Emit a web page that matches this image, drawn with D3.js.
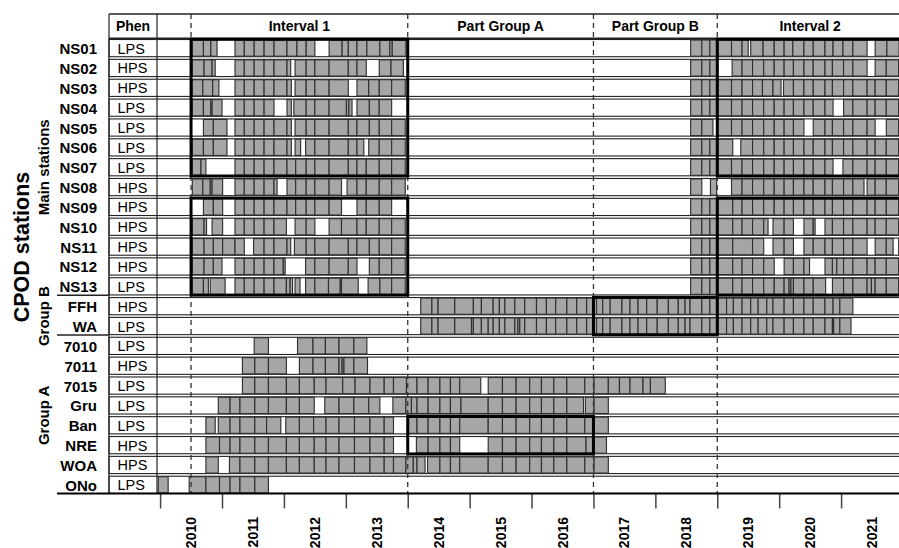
<!DOCTYPE html>
<html>
<head>
<meta charset="utf-8">
<script src="https://cdn.jsdelivr.net/npm/d3@7"></script>
<style>
  body { margin: 0; background: #fff; }
  svg { display: block; }
</style>
</head>
<body>
<svg id="chart" width="899" height="548"></svg>
<script>
// Stations (top to bottom) and their phenotype class
const stations = ["NS01","NS02","NS03","NS04","NS05","NS06","NS07","NS08","NS09","NS10","NS11","NS12","NS13",
                  "FFH","WA","7010","7011","7015","Gru","Ban","NRE","WOA","ONo"];
const phen = ["LPS","HPS","HPS","LPS","LPS","LPS","LPS","HPS","HPS","HPS","HPS","HPS","LPS",
              "HPS","LPS","LPS","HPS","LPS","LPS","LPS","HPS","HPS","LPS"];

// Station groups shown on the left
const groups = [
  { label: "Main stations", first: "NS01", last: "NS13" },
  { label: "Group B", first: "FFH", last: "WA" },
  { label: "Group A", first: "7010", last: "ONo" }
];

// Header periods (decimal years)
const periods = [
  { label: "Interval 1",   start: 2010.5, end: 2014 },
  { label: "Part Group A", start: 2014,   end: 2017 },
  { label: "Part Group B", start: 2017,   end: 2019 },
  { label: "Interval 2",   start: 2019,   end: 2022 }
];
const periodBreaks = [2010.5, 2014, 2017, 2019];

// Highlighted station blocks used in each analysis period
const blocks = [
  { start: 2010.5, end: 2014,   first: "NS01", last: "NS07" },
  { start: 2010.5, end: 2014,   first: "NS09", last: "NS13" },
  { start: 2014,   end: 2017,   first: "Ban",  last: "NRE" },
  { start: 2017,   end: 2019,   first: "FFH",  last: "WA" },
  { start: 2019,   end: 2022.3, first: "NS01", last: "NS07" },
  { start: 2019,   end: 2022.3, first: "NS09", last: "NS13" }
];

const years = [2010,2011,2012,2013,2014,2015,2016,2017,2018,2019,2020,2021];

// CPOD deployments per station: each inner array is a run of back-to-back
// deployments given by their boundary dates (decimal years); gaps separate runs.
const d_NS01 = [[2010.52,2010.70,2010.82,2010.92],
  [2011.21,2011.36,2011.52,2011.68,2011.84,2012.05,2012.21,2012.36,2012.50],
  [2012.73,2012.94,2013.04,2013.18,2013.34,2013.55,2013.71,2013.75,2013.97],
  [2018.57,2018.75,2018.88,2019.01,2019.23,2019.40,2019.50],
  [2019.54,2019.74,2019.92,2020.08,2020.22,2020.40,2020.55,2020.74,2020.87,2021.03,2021.19,2021.42],
  [2021.55,2021.74,2021.94,2022.03]];
const d_NS02 = [[2010.52,2010.71,2010.84,2010.89],
  [2011.21,2011.36,2011.52,2011.68,2011.84,2012.05,2012.11],
  [2012.18,2012.36,2012.50,2012.73,2013.04,2013.18,2013.33],
  [2013.54,2013.73,2013.93],
  [2018.57,2018.75,2018.88,2019.01],
  [2019.24,2019.40,2019.57,2019.75,2019.92,2020.08,2020.23,2020.40,2020.55,2020.74,2020.86,2021.04,2021.19,2021.42],
  [2021.55,2021.73,2021.93,2022.03]];
const d_NS03 = [[2010.52,2010.69,2010.85,2010.95],
  [2011.21,2011.36,2011.52,2011.68,2011.84,2012.05,2012.12],
  [2012.18,2012.36,2012.50,2012.73,2013.04],
  [2013.18,2013.37,2013.54,2013.74,2013.96],
  [2018.57,2018.75,2018.88,2019.01,2019.23,2019.40,2019.57,2019.73,2019.90,2020.03],
  [2020.07,2020.23,2020.40,2020.55,2020.74,2020.86,2021.04,2021.19,2021.42,2021.55,2021.73,2021.93,2022.03]];
const d_NS04 = [[2010.52,2010.70,2010.82,2010.84,2011.00],
  [2011.21,2011.36,2011.52,2011.68,2011.84],
  [2012.05,2012.12],
  [2012.16,2012.36,2012.50,2012.73,2013.01,2013.05,2013.10],
  [2013.18,2013.38,2013.54,2013.74],
  [2018.57,2018.75,2018.88,2019.01,2019.23,2019.40,2019.57,2019.75,2019.92,2020.08,2020.23,2020.40,2020.55,2020.74,2020.87],
  [2021.04,2021.19,2021.42,2021.55,2021.73,2021.93,2022.03]];
const d_NS05 = [[2010.70,2010.86,2011.08],
  [2011.21,2011.36,2011.52,2011.68,2011.84,2012.05,2012.12],
  [2012.18,2012.36,2012.50,2012.73,2013.04,2013.18,2013.38,2013.54,2013.74,2013.96],
  [2018.57,2018.75,2018.93],
  [2019.01,2019.23,2019.40,2019.57,2019.75,2019.92,2020.08,2020.23,2020.40],
  [2020.55,2020.74,2020.86,2021.04,2021.19,2021.42,2021.55],
  [2021.73,2021.93,2022.03]];
const d_NS06 = [[2010.52,2010.70,2010.86,2011.08],
  [2011.21,2011.36,2011.52,2011.68,2011.84,2012.05,2012.12],
  [2012.18,2012.27],
  [2012.35,2012.50,2012.73,2013.04,2013.18,2013.29],
  [2013.37,2013.54,2013.74,2013.96],
  [2018.57,2018.75,2018.88,2019.01,2019.25],
  [2019.38,2019.57,2019.75,2019.92,2020.08,2020.23,2020.40,2020.55,2020.74,2020.86,2021.04,2021.19,2021.42,2021.55,2021.73,2021.93,2022.03]];
const d_NS07 = [[2010.52,2010.66,2010.74],
  [2011.21,2011.36,2011.52,2011.68,2011.84,2012.05,2012.19,2012.36,2012.50,2012.73,2013.04,2013.18,2013.33,2013.54,2013.74,2013.96],
  [2018.57,2018.75,2018.88,2019.01,2019.23,2019.40,2019.57,2019.75,2019.92,2020.08,2020.23,2020.40,2020.55,2020.74,2020.87],
  [2021.03,2021.19,2021.42,2021.55,2021.73,2021.93,2022.03]];
const d_NS08 = [[2010.52,2010.69,2010.81,2010.84,2011.01],
  [2011.21,2011.36,2011.52,2011.68,2011.84,2011.89],
  [2012.05,2012.19,2012.36,2012.50,2012.73,2012.93],
  [2013.02,2013.18,2013.33,2013.54,2013.74,2013.96],
  [2018.57,2018.75],
  [2018.89,2018.99],
  [2019.23,2019.40,2019.57,2019.75,2019.92,2020.08,2020.23,2020.40,2020.55,2020.74,2020.86,2021.04,2021.19,2021.37],
  [2021.42,2021.55,2021.73,2021.93,2022.03]];
const d_NS09 = [[2010.70,2010.86,2011.01],
  [2011.21,2011.36,2011.52,2011.68,2011.84,2012.05,2012.19,2012.36,2012.50,2012.73,2012.93],
  [2013.18,2013.33,2013.54,2013.74],
  [2018.57,2018.75,2018.88,2019.01,2019.25,2019.40,2019.57,2019.75,2019.92,2020.08,2020.23,2020.40,2020.55,2020.74,2020.86,2021.04,2021.19,2021.42,2021.55,2021.73,2021.93,2022.03]];
const d_NS10 = [[2010.52,2010.71,2010.75],
  [2010.84,2011.01],
  [2011.21,2011.36,2011.52,2011.68,2011.84,2012.04],
  [2012.18,2012.36,2012.50],
  [2012.73,2012.93,2013.18,2013.33,2013.54,2013.74,2013.96],
  [2018.57,2018.75,2018.88,2019.01,2019.25,2019.40,2019.57,2019.75,2019.82],
  [2019.90,2020.08,2020.23],
  [2020.40,2020.55,2020.58],
  [2020.74,2020.86,2021.04,2021.19,2021.42,2021.55,2021.73,2021.93,2022.03]];
const d_NS11 = [[2010.52,2010.71,2010.86,2011.01,2011.21,2011.36],
  [2011.51,2011.68,2011.84,2012.05,2012.11],
  [2012.17,2012.36,2012.50,2012.73,2013.04,2013.18,2013.38,2013.54,2013.74,2013.96],
  [2018.57,2018.75,2018.88,2019.01,2019.25,2019.57,2019.75],
  [2019.90,2020.08,2020.23],
  [2020.40,2020.55,2020.74,2020.86,2021.04,2021.19,2021.42],
  [2021.55,2021.73,2021.84],
  [2021.93,2022.03]];
const d_NS12 = [[2010.52,2010.71,2010.86,2011.00],
  [2011.21,2011.36,2011.52,2011.68,2011.84,2011.99,2012.02],
  [2012.35,2012.50,2012.73,2013.04,2013.18],
  [2013.38,2013.54,2013.74,2013.96],
  [2018.57,2018.75,2018.88,2019.01,2019.25,2019.40,2019.57,2019.75,2019.92],
  [2020.08,2020.23,2020.40,2020.49],
  [2020.74,2020.86,2020.93,2021.04,2021.19,2021.42,2021.55,2021.73,2021.93,2022.03]];
const d_NS13 = [[2010.52,2010.70,2010.78],
  [2010.81,2011.05],
  [2011.21,2011.36,2011.52,2011.68,2011.84,2012.04,2012.10,2012.14],
  [2012.18,2012.26],
  [2012.35,2012.50,2012.72,2012.91,2012.93,2013.20],
  [2013.36,2013.55,2013.74,2013.96],
  [2018.57,2018.75,2018.88,2019.01,2019.25,2019.40,2019.57,2019.75,2019.92,2020.08,2020.16,2020.19,2020.23,2020.40,2020.55,2020.75],
  [2020.86,2021.04,2021.19,2021.42,2021.49,2021.55,2021.73,2021.93,2022.03]];
const d_FFH = [[2014.21,2014.39,2014.49,2014.76,2015.06,2015.19,2015.38,2015.48,2015.57,2015.73,2015.89,
  2016.08,2016.24,2016.39,2016.57,2016.73,2016.89,2017.01,2017.05,2017.15,2017.27,2017.46,2017.59,2017.72,2017.86,
  2018.03,2018.21,2018.37,2018.48,2018.56,2018.75,2018.88,2019.01,2019.15,2019.26,2019.40,2019.54,2019.66,2019.80,2019.90,
  2020.08,2020.23,2020.40,2020.55,2020.74,2020.87,2020.98,2021.19]];
const d_WA = [[2014.21,2014.39,2014.49,2014.76,2015.03,2015.06,2015.19,2015.30,2015.38,2015.48,2015.57,2015.73,2015.78,2015.81,2015.89,
  2016.08,2016.24,2016.39,2016.57,2016.73,2016.89,2017.01,2017.05,2017.15,2017.27,2017.46,2017.59,2017.72,2017.86,
  2018.03,2018.21,2018.37,2018.48,2018.56,2018.75,2018.88,2019.01,2019.15,2019.26,2019.40,2019.54,2019.66,2019.80,2019.90,
  2020.08,2020.23,2020.40,2020.55,2020.74,2020.86,2020.88,2020.98,2021.16]];
const d_7010 = [[2011.52,2011.75],
  [2012.22,2012.47,2012.67,2012.89,2013.13,2013.34]];
const d_7011 = [[2011.33,2011.53,2011.75,2012.04],
  [2012.25,2012.47,2012.67,2012.89,2012.94,2012.97,2013.13,2013.35]];
const d_7015 = [[2011.33,2011.53,2011.75,2012.04,2012.25,2012.49,2012.68,2012.95,2013.15,2013.39,2013.62,2013.77,2013.98,
  2014.15,2014.33,2014.52,2014.69,2014.84,2015.18],
  [2015.30,2015.53,2015.75,2015.97,2016.16,2016.36,2016.57,2016.86,2017.01,2017.24,2017.42,2017.59,2017.80,2017.92,2018.16]];
const d_Gru = [[2010.94,2011.13,2011.29,2011.53,2011.75,2012.04,2012.25,2012.49],
  [2012.66,2012.89,2013.13,2013.37,2013.55],
  [2013.76,2013.97,2014.06,2014.15,2014.33,2014.52,2014.69,2014.86,2015.30,2015.53,2015.75,2015.97,2016.16,2016.36,2016.57,2016.84],
  [2016.87,2017.01,2017.24]];
const d_Ban = [[2010.74,2010.89],
  [2010.94,2011.13,2011.29,2011.53,2011.72,2011.95],
  [2012.03,2012.25,2012.48,2012.68,2012.89,2013.14,2013.39,2013.62,2013.77],
  [2014.00,2014.15,2014.33,2014.52,2014.69,2014.84,2015.30,2015.53,2015.75,2015.97,2016.16,2016.36,2016.57,2016.86,2017.01,2017.24]];
const d_NRE = [[2010.74,2010.96,2011.13,2011.29,2011.53,2011.75,2012.04,2012.25,2012.49,2012.68,2012.89,2013.14,2013.39,2013.62,2013.77],
  [2014.14,2014.33,2014.52,2014.69,2014.84],
  [2015.30,2015.53,2015.75,2015.97,2016.16,2016.36,2016.57,2016.88,2017.01,2017.21]];
const d_WOA = [[2010.74,2010.94],
  [2011.12,2011.29,2011.53,2011.75,2012.04,2012.25,2012.49,2012.68,2012.89,2013.14,2013.39,2013.62,2013.77,2013.97,2014.09,2014.15,2014.28],
  [2014.32,2014.52,2014.69,2014.84,2015.30,2015.53,2015.75,2015.97,2016.16,2016.36,2016.57,2016.86,2017.01,2017.24]];
const d_ONo = [[2009.97,2010.13],
  [2010.47,2010.74,2010.96,2011.13,2011.29,2011.53,2011.75]];

const deployments = [d_NS01,d_NS02,d_NS03,d_NS04,d_NS05,d_NS06,d_NS07,d_NS08,d_NS09,d_NS10,d_NS11,d_NS12,d_NS13,
                     d_FFH,d_WA,d_7010,d_7011,d_7015,d_Gru,d_Ban,d_NRE,d_WOA,d_ONo];

// ---------------------------------------------------------------- drawing
const FONT = '"Liberation Sans", Arial, Helvetica, sans-serif';
const svg = d3.select("#chart").style("font-family", FONT);

const PHEN_L = 109, PHEN_R = 157, X_END = 903;
const HEAD_TOP = 14, HEAD_BOT = 38.2;

const x = d3.scaleLinear().domain([2009.95, 2022.0]).range([PHEN_R, X_END]);
const y = d3.scaleBand().domain(stations).range([38.2, 494.75])
  .paddingInner(0.133).paddingOuter(0.066);
const bw = y.bandwidth();
const AXIS_Y = y("ONo") + bw;

// row frames
svg.append("g").selectAll("rect").data(stations).join("rect")
  .attr("x", PHEN_L).attr("y", d => y(d))
  .attr("width", X_END - PHEN_L).attr("height", bw)
  .attr("fill", "#fff").attr("stroke", "#222").attr("stroke-width", 1.1);

// deployment cells
const cells = [];
stations.forEach((s, i) => {
  deployments[i].forEach(run => {
    for (let k = 0; k < run.length - 1; k++) cells.push({ s, a: run[k], b: run[k + 1] });
  });
});
svg.append("g").selectAll("rect").data(cells).join("rect")
  .attr("x", d => x(d.a)).attr("y", d => y(d.s) + 0.5)
  .attr("width", d => x(d.b) - x(d.a)).attr("height", bw - 1)
  .attr("fill", "#a6a6a6").attr("stroke", "#303030").attr("stroke-width", 1.15);

// header frame and column separators
const frame = svg.append("g").attr("stroke", "#222").attr("fill", "none");
frame.append("line").attr("x1", PHEN_L).attr("x2", X_END).attr("y1", HEAD_TOP).attr("y2", HEAD_TOP).attr("stroke-width", 1.4);
frame.append("line").attr("x1", PHEN_L).attr("x2", X_END).attr("y1", HEAD_BOT).attr("y2", HEAD_BOT).attr("stroke-width", 1.4);
[PHEN_L, PHEN_R].forEach(cx =>
  frame.append("line").attr("x1", cx).attr("x2", cx).attr("y1", HEAD_TOP).attr("y2", AXIS_Y).attr("stroke-width", 1.2));

// group separators in the label column
["NS13", "WA"].forEach(s => {
  frame.append("line").attr("x1", 57).attr("x2", PHEN_L)
    .attr("y1", y(s) + bw + 0.3).attr("y2", y(s) + bw + 0.3).attr("stroke-width", 1.4);
});

// period boundaries
svg.append("g").selectAll("line").data(periodBreaks).join("line")
  .attr("x1", d => x(d)).attr("x2", d => x(d))
  .attr("y1", HEAD_TOP).attr("y2", AXIS_Y)
  .attr("stroke", "#333").attr("stroke-width", 1.3).attr("stroke-dasharray", "5,4");

// highlighted blocks
svg.append("g").selectAll("rect").data(blocks).join("rect")
  .attr("x", d => x(d.start)).attr("y", d => y(d.first) - 0.2)
  .attr("width", d => x(d.end) - x(d.start))
  .attr("height", d => y(d.last) + bw - y(d.first) + 0.4)
  .attr("fill", "none").attr("stroke", "#000").attr("stroke-width", 3);

// header texts
svg.append("text").attr("x", (PHEN_L + PHEN_R) / 2).attr("y", (HEAD_TOP + HEAD_BOT) / 2)
  .attr("text-anchor", "middle").attr("dominant-baseline", "central")
  .attr("font-weight", "bold").attr("font-size", 14).text("Phen");
svg.append("g").selectAll("text").data(periods).join("text")
  .attr("x", d => (x(d.start) + x(d.end)) / 2).attr("y", (HEAD_TOP + HEAD_BOT) / 2)
  .attr("text-anchor", "middle").attr("dominant-baseline", "central")
  .attr("font-weight", "bold").attr("font-size", 14).text(d => d.label);

// station names and phenotype
svg.append("g").selectAll("text").data(stations).join("text")
  .attr("x", 97).attr("y", d => y(d) + bw / 2 + 0.5)
  .attr("text-anchor", "end").attr("dominant-baseline", "central")
  .attr("font-weight", "bold").attr("font-size", 15).text(d => d);
svg.append("g").selectAll("text").data(stations).join("text")
  .attr("x", 117.5).attr("y", d => y(d) + bw / 2 + 0.5)
  .attr("dominant-baseline", "central")
  .attr("font-size", 14.5).text((d, i) => phen[i]);

// group labels
svg.append("g").selectAll("text").data(groups).join("text")
  .attr("transform", d => `translate(49,${(y(d.first) + y(d.last) + bw) / 2}) rotate(-90)`)
  .attr("text-anchor", "middle")
  .attr("font-weight", "bold").attr("font-size", 15).text(d => d.label);

svg.append("text")
  .attr("transform", `translate(29,247) rotate(-90)`)
  .attr("text-anchor", "middle")
  .attr("font-weight", "bold").attr("font-size", 21.5).text("CPOD stations");

// time axis
const axis = d3.axisBottom(x).tickValues(years).tickSize(15).tickFormat("");
const ax = svg.append("g").attr("transform", `translate(0,${AXIS_Y})`).call(axis);
ax.select(".domain").remove();
ax.selectAll(".tick line").attr("stroke", "#444").attr("stroke-width", 1.5);
svg.append("line").attr("x1", 57).attr("x2", X_END).attr("y1", AXIS_Y).attr("y2", AXIS_Y)
  .attr("stroke", "#000").attr("stroke-width", 2);

svg.append("g").selectAll("text").data(years).join("text")
  .attr("transform", d => `translate(${x(d + 0.5)},517) rotate(-90)`)
  .attr("text-anchor", "end").attr("dominant-baseline", "central")
  .attr("font-weight", "bold").attr("font-size", 14).text(d => d);
</script>
</body>
</html>
